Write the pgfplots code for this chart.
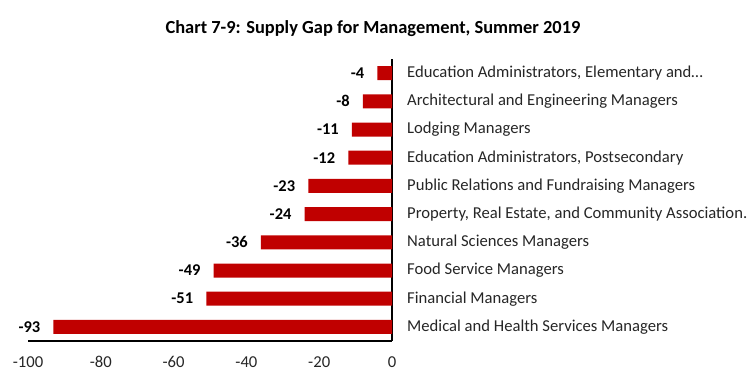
\documentclass[border=0pt]{standalone}
\usepackage{fontspec}
\setmainfont{Carlito}
\usepackage{pgfplots}
\usepackage{pgfplotstable}
\pgfplotsset{compat=1.18}
\definecolor{barred}{HTML}{C00000}
\pgfplotstableread[col sep=comma]{
idx,val,lab
0,-4,-4
1,-8,-8
2,-11,-11
3,-12,-12
4,-23,-23
5,-24,-24
6,-36,-36
7,-49,-49
8,-51,-51
9,-93,-93
}\gapdata
\begin{document}
\begin{tikzpicture}
\useasboundingbox (0,0) rectangle (750bp,375bp);
\node[font=\fontsize{18.5}{20}\selectfont\bfseries] at (373bp,346bp) {Chart 7-9: Supply Gap for Management, Summer 2019};
\begin{axis}[
  at={(28bp,34bp)}, anchor=south west,
  scale only axis, width=364bp, height=282bp,
  xbar, bar width=14bp,
  xmin=-100, xmax=0,
  ymin=-0.5, ymax=9.5, y dir=reverse,
  axis x line*=bottom, axis y line*=right,
  axis line style={line width=1.3bp, black},
  xtick={-100,-80,-60,-40,-20,0},
  xticklabels={-100,-80,-60,-40,-20,0},
  ytick={0,...,9},
  yticklabels={{Education Administrators, Elementary and…},
    Architectural and Engineering Managers,
    Lodging Managers,
    {Education Administrators, Postsecondary},
    Public Relations and Fundraising Managers,
    {Property, Real Estate, and Community Association.},
    Natural Sciences Managers,
    Food Service Managers,
    Financial Managers,
    Medical and Health Services Managers},
  major tick length=0pt,
  tick label style={font=\fontsize{16.7}{18}\selectfont, text=black!85},
  yticklabel style={anchor=west, inner sep=0pt, xshift=15bp},
  xticklabel style={anchor=north, inner sep=0pt, yshift=-15bp},
  nodes near coords={\pgfplotspointmeta},
  point meta=explicit symbolic,
  every node near coord/.append style={anchor=east, inner sep=0pt, xshift=-13bp, font=\fontsize{16.5}{18}\selectfont\bfseries, text=black},
  clip=false,
]
\addplot[fill=barred, draw=none] table[x=val, y=idx, meta=lab] {\gapdata};
\end{axis}
\end{tikzpicture}
\end{document}
